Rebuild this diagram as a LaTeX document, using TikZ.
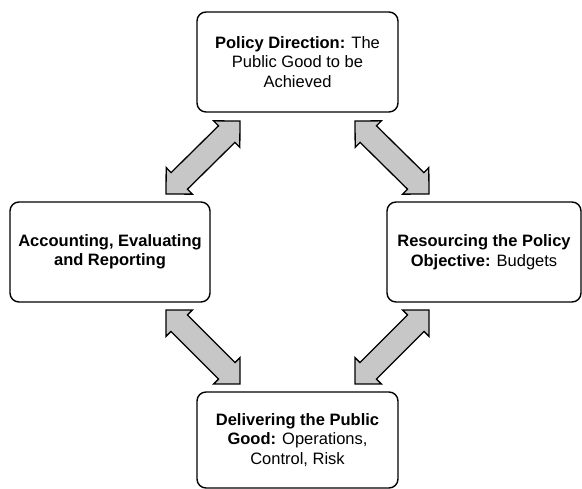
\documentclass[tikz,border=0pt]{standalone}
\usepackage{fontspec}
\setmainfont{Liberation Sans}
\usepackage{tikz}
\usetikzlibrary{shapes.arrows,calc}
\tikzset{
  stage/.style={
    draw,
    line width=1.4pt,
    rounded corners=9pt,
    align=center,
    inner sep=0pt,
    outer sep=0pt,
    font=\fontsize{16.5}{19.5}\selectfont
  },
  flow/.style={
    double arrow,
    draw=black,
    fill=black!22,
    line width=1.3pt,
    inner xsep=0pt,
    inner ysep=11pt,
    double arrow head extend=7pt,
    double arrow tip angle=90
  }
}
% two-headed block arrow between two named points
\newcommand{\flowlink}[2]{
  \path let \p1=($(#2)-(#1)$),
            \n1={veclen(\x1,\y1)},
            \n2={atan2(\y1,\x1)} in
    node[flow, minimum height=\n1, rotate=\n2] at ($(#1)!0.5!(#2)$) {};
}

\begin{document}
\begin{tikzpicture}[x=1pt,y=1pt]
    \useasboundingbox (0,0) rectangle (582,489);
    % the four stages of the cycle
    \node[stage, minimum width=201pt, minimum height=100pt] (direction) at (297.5,427)
        {\textbf{Policy Direction:} The\\ Public Good to be\\ Achieved};
    \node[stage, minimum width=200pt, minimum height=100pt, font=\fontsize{16.5}{19.5}\selectfont\bfseries] (accounting) at (110,237)
        {Accounting, Evaluating\\ and Reporting};
    \node[stage, minimum width=194pt, minimum height=100pt] (resourcing) at (484,237)
        {\textbf{Resourcing the Policy}\\ \textbf{Objective:} Budgets};
    \node[stage, minimum width=201pt, minimum height=96pt] (delivering) at (297.5,49)
        {\textbf{Delivering the Public}\\ \textbf{Good:} Operations,\\ Control, Risk};
    % arrow ends next to the boxes
    \coordinate (dir-w) at ([shift={(43,-9)}]direction.south west);
    \coordinate (dir-e) at ([shift={(-43,-9)}]direction.south east);
    \coordinate (acc-n) at ([shift={(-44,8)}]accounting.north east);
    \coordinate (acc-s) at ([shift={(-44,-8)}]accounting.south east);
    \coordinate (res-n) at ([shift={(42,8)}]resourcing.north west);
    \coordinate (res-s) at ([shift={(42,-8)}]resourcing.south west);
    \coordinate (del-w) at ([shift={(43,8)}]delivering.north west);
    \coordinate (del-e) at ([shift={(-43,8)}]delivering.north east);
    % links
    \flowlink{acc-n}{dir-w}
    \flowlink{dir-e}{res-n}
    \flowlink{acc-s}{del-w}
    \flowlink{del-e}{res-s}
\end{tikzpicture}
\end{document}
